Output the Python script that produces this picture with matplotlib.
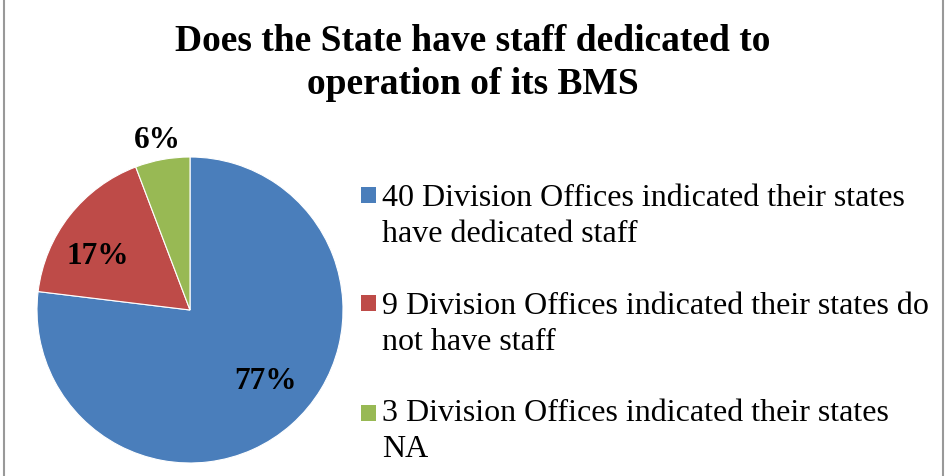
import matplotlib
matplotlib.use("Agg")
import matplotlib.pyplot as plt
from matplotlib.patches import Rectangle

categories = ["40 Division Offices indicated their states\nhave dedicated staff",
              "9 Division Offices indicated their states do\nnot have staff",
              "3 Division Offices indicated their states\nNA"]
values = [40, 9, 3]
pct_labels = ["77%", "17%", "6%"]
colors = ["#4A7EBB", "#BE4B48", "#98B954"]
title = "Does the State have staff dedicated to\noperation of its BMS"

W, H = 947, 477
fig = plt.figure(figsize=(W/100, H/100), dpi=100)
plt.rcParams['font.family'] = ['Liberation Serif', 'DejaVu Serif']

# frame
fig.add_artist(Rectangle((3.5/W, -0.01), (943-3.5)/W, 1.02, transform=fig.transFigure,
                         fill=False, edgecolor="#999999", linewidth=1.5))

cx, cy, r = 190, 311, 153
ax = fig.add_axes([(cx-r)/W, (H-cy-r)/H, 2*r/W, 2*r/H])
wedges, _ = ax.pie(values, colors=colors, startangle=90, counterclock=False,
                   radius=1, wedgeprops=dict(edgecolor="white", linewidth=0.8))
ax.set_xlim(-1, 1); ax.set_ylim(-1, 1)
ax.set_aspect("equal")
ax.axis("off")

label_pos = [(265, 382), (98, 256), (157, 140)]
for (x, y), t in zip(label_pos, pct_labels):
    ax.text((x-cx)/r, (cy-y)/r, t, ha="center", va="center", fontsize=22.5,
            fontweight="bold", clip_on=False)

fig.text(473/W, 1-94/H, title, ha="center", va="baseline", fontsize=27,
         fontweight="bold", linespacing=1.3)

first_base = [205, 313, 423]
last_base = [242, 350, 457]
for yb, yl, lab, c in zip(first_base, last_base, categories, colors):
    fig.add_artist(Rectangle((361/W, 1-(yb-1)/H), 15/W, 16/H, transform=fig.transFigure,
                             facecolor=c, edgecolor="none"))
    fig.text(382/W, 1-yl/H, lab, ha="left", va="baseline", fontsize=23,
             linespacing=1.33)

fig.savefig("out.png", dpi=100)
